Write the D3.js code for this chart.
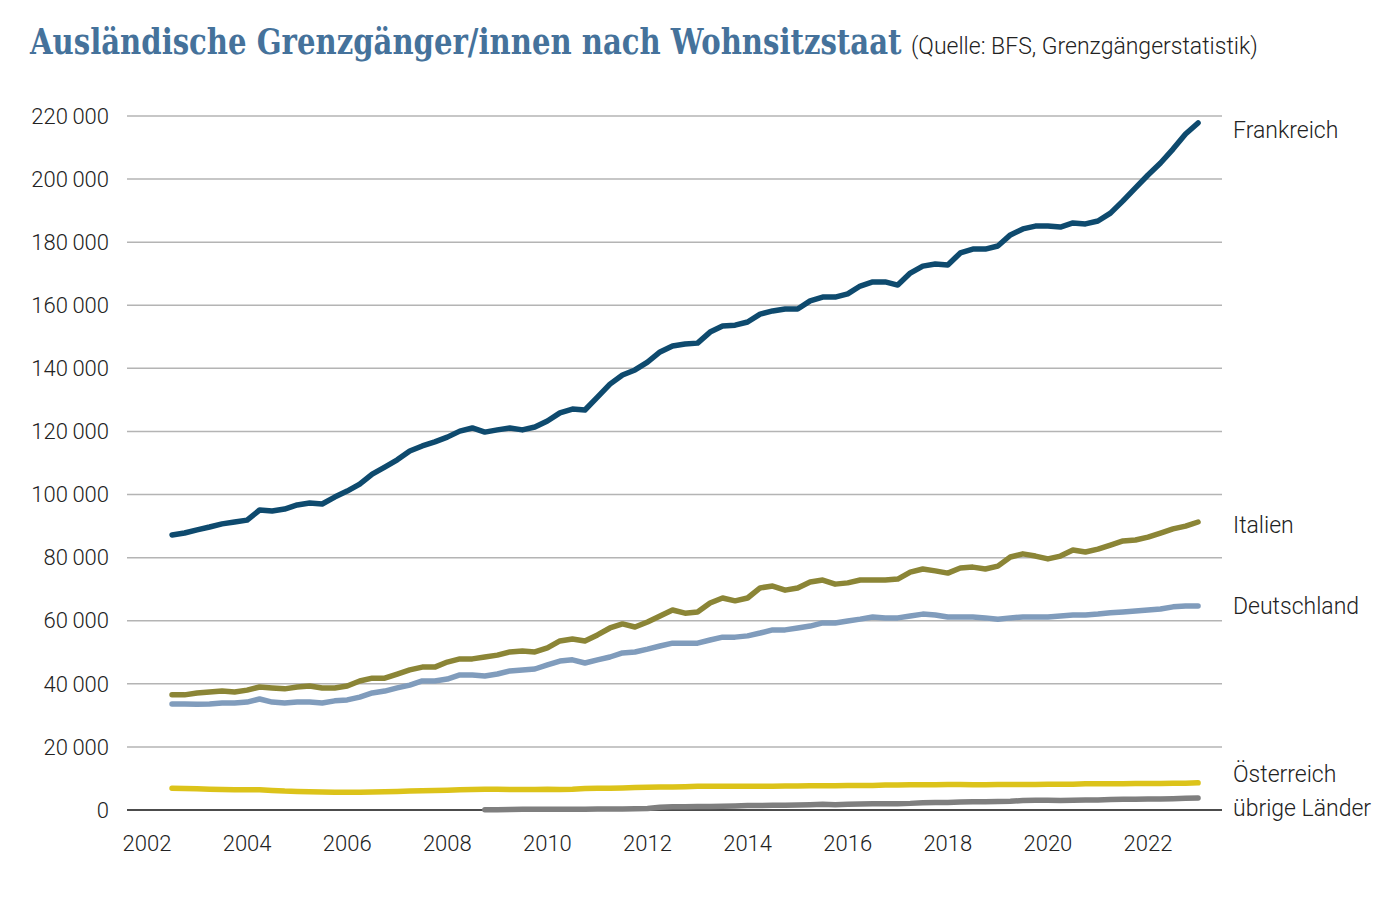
<!DOCTYPE html>
<html>
<head>
<meta charset="utf-8">
<script src="https://cdn.jsdelivr.net/npm/d3@7"></script>
<style>
  body { margin: 0; background: #fff; }
  svg { display: block; }
  .tick-label { font-family: Roboto, sans-serif; font-weight: 300; font-size: 22px; fill: #222; }
  .series-label { font-family: Roboto, sans-serif; font-weight: 300; font-size: 23px; fill: #222; }
</style>
</head>
<body>
<svg width="1400" height="898"></svg>
<script>
// quarterly values in thousands, 2002 Q3 .. 2023 Q1
let startYear = 2002.5;
let frankreich = [
  87.2, 87.8,
  88.8, 89.7, 90.7, 91.3,
  91.9, 95.1, 94.8, 95.4,
  96.7, 97.3, 97.0, 99.2,
  101.1, 103.3, 106.5, 108.7,
  111.0, 113.8, 115.4, 116.7,
  118.2, 120.1, 121.1, 119.8,
  120.5, 121.1, 120.5, 121.4,
  123.3, 125.9, 127.1, 126.8,
  130.9, 135.0, 137.9, 139.5,
  142.0, 145.2, 147.1, 147.7,
  148.0, 151.5, 153.4, 153.7,
  154.7, 157.2, 158.2, 158.8,
  158.8, 161.4, 162.6, 162.6,
  163.6, 166.1, 167.4, 167.4,
  166.4, 170.2, 172.4, 173.1,
  172.8, 176.6, 177.8, 177.8,
  178.8, 182.3, 184.2, 185.1,
  185.1, 184.8, 186.1, 185.8,
  186.7, 189.2, 193.1, 197.2,
  201.3, 205.1, 209.5, 214.3,
  217.8
];
let italien = [
  36.5, 36.5,
  37.1, 37.4, 37.7, 37.4,
  38.0, 39.0, 38.7, 38.4,
  39.0, 39.3, 38.7, 38.7,
  39.3, 40.9, 41.8, 41.8,
  43.1, 44.4, 45.3, 45.3,
  46.9, 47.9, 47.9, 48.5,
  49.1, 50.1, 50.4, 50.1,
  51.4, 53.6, 54.2, 53.6,
  55.5, 57.7, 59.0, 58.0,
  59.6, 61.5, 63.4, 62.4,
  62.8, 65.6, 67.2, 66.3,
  67.2, 70.4, 71.0, 69.7,
  70.4, 72.3, 72.9, 71.6,
  72.0, 72.9, 72.9, 72.9,
  73.2, 75.4, 76.4, 75.8,
  75.1, 76.7, 77.0, 76.4,
  77.3, 80.2, 81.2, 80.5,
  79.6, 80.5, 82.4, 81.8,
  82.7, 84.0, 85.3, 85.6,
  86.5, 87.8, 89.1, 90.0,
  91.3
];
let deutschland = [
  33.6, 33.6,
  33.5, 33.6, 33.9, 33.9,
  34.2, 35.2, 34.2, 33.9,
  34.2, 34.2, 33.9, 34.6,
  34.9, 35.8, 37.1, 37.7,
  38.7, 39.6, 40.9, 40.9,
  41.5, 42.8, 42.8, 42.5,
  43.1, 44.1, 44.4, 44.7,
  46.0, 47.2, 47.6, 46.6,
  47.6, 48.5, 49.8, 50.1,
  51.0, 52.0, 52.9, 52.9,
  52.9, 53.9, 54.8, 54.8,
  55.2, 56.1, 57.1, 57.1,
  57.7, 58.3, 59.3, 59.3,
  59.9, 60.5, 61.2, 60.9,
  60.9, 61.5, 62.1, 61.8,
  61.2, 61.2, 61.2, 60.9,
  60.5, 60.9, 61.2, 61.2,
  61.2, 61.5, 61.8, 61.8,
  62.1, 62.5, 62.8, 63.1,
  63.4, 63.7, 64.4, 64.7,
  64.7
];
let oesterreich = [
  6.9, 6.8,
  6.7, 6.6, 6.5, 6.4,
  6.4, 6.4, 6.2, 6.0,
  5.9, 5.8, 5.7, 5.6,
  5.6, 5.6, 5.7, 5.8,
  5.9, 6.0, 6.1, 6.2,
  6.3, 6.4, 6.5, 6.6,
  6.6, 6.5, 6.5, 6.5,
  6.6, 6.5, 6.6, 6.8,
  6.9, 6.9, 7.0, 7.1,
  7.2, 7.3, 7.3, 7.4,
  7.5, 7.5, 7.5, 7.5,
  7.5, 7.5, 7.5, 7.6,
  7.6, 7.7, 7.7, 7.7,
  7.8, 7.8, 7.8, 7.9,
  7.9, 8.0, 8.0, 8.0,
  8.1, 8.1, 8.0, 8.0,
  8.1, 8.1, 8.1, 8.1,
  8.2, 8.2, 8.2, 8.3,
  8.3, 8.3, 8.3, 8.4,
  8.4, 8.4, 8.5, 8.5,
  8.6
];
// starts in 2008 Q4
let uebrigeStart = 2008.75;
let uebrige = [
  0.1,
  0.1, 0.15, 0.2, 0.2,
  0.2, 0.2, 0.25, 0.25,
  0.3, 0.3, 0.35, 0.4,
  0.5, 0.9, 1.0, 1.0,
  1.1, 1.1, 1.2, 1.3,
  1.4, 1.4, 1.5, 1.5,
  1.6, 1.7, 1.8, 1.7,
  1.8, 1.9, 2.0, 2.0,
  2.0, 2.1, 2.3, 2.4,
  2.4, 2.5, 2.6, 2.6,
  2.7, 2.8, 3.0, 3.1,
  3.1, 3.0, 3.1, 3.2,
  3.2, 3.3, 3.4, 3.4,
  3.5, 3.5, 3.6, 3.7,
  3.8
];
let yTicks = d3.range(0, 220001, 20000);
let xTicks = d3.range(2002, 2023, 2);

let series = [
  { name: "Frankreich", start: startYear, values: frankreich, color: "#0e4a6e", dy: 7 },
  { name: "Italien", start: startYear, values: italien, color: "#8b8536", dy: 3 },
  { name: "Deutschland", start: startYear, values: deutschland, color: "#809cbc", dy: 0 },
  { name: "Österreich", start: startYear, values: oesterreich, color: "#dcc31a", dy: -9 },
  { name: "übrige Länder", start: uebrigeStart, values: uebrige, color: "#7f7f7f", dy: 10 }
];

let svg = d3.select("svg");
let x = d3.scaleLinear().domain([2002, 2022]).range([147, 1148]);
let y = d3.scaleLinear().domain([0, 220000]).range([810, 116]);
let gridLeft = 127, gridRight = 1222;

let loc = d3.formatLocale({ decimal: ",", thousands: "\u2009", grouping: [3], currency: ["", ""] });
let fmt = loc.format(",d");

// title: fit the width with the font size, then stretch it vertically
// so it looks like the narrow slab serif of the original
let titleWidth = 872;
let titleG = svg.append("g");
let title = titleG.append("text")
  .attr("x", 0)
  .attr("y", 0)
  .attr("font-family", "'Roboto Slab', 'DejaVu Serif', serif")
  .attr("font-weight", "bold")
  .attr("font-size", 30)
  .attr("fill", "#45729b")
  .text("Ausländische Grenzgänger/innen nach Wohnsitzstaat");
let fs = 30 * titleWidth / title.node().getComputedTextLength();
title.attr("font-size", fs);
titleG.attr("transform", `translate(30,54) scale(1,${35 / fs})`);

svg.append("text")
  .attr("x", 30 + titleWidth + 9)
  .attr("y", 54)
  .attr("font-family", "Roboto, sans-serif")
  .attr("font-weight", 300)
  .attr("font-size", 23)
  .attr("fill", "#222")
  .text("(Quelle: BFS, Grenzgängerstatistik)");

// grid
svg.append("g")
  .selectAll("line")
  .data(yTicks.filter(d => d > 0))
  .enter().append("line")
    .attr("x1", gridLeft)
    .attr("x2", gridRight)
    .attr("y1", d => y(d))
    .attr("y2", d => y(d))
    .attr("stroke", "#b4b4b4")
    .attr("stroke-width", 1.5);

svg.append("line")
  .attr("x1", gridLeft)
  .attr("x2", gridRight)
  .attr("y1", y(0))
  .attr("y2", y(0))
  .attr("stroke", "#111")
  .attr("stroke-width", 1.5);

// y labels
svg.append("g")
  .selectAll("text")
  .data(yTicks)
  .enter().append("text")
    .attr("class", "tick-label")
    .attr("x", 109)
    .attr("y", d => y(d))
    .attr("dy", "0.35em")
    .attr("text-anchor", "end")
    .text(d => fmt(d));

// x labels
svg.append("g")
  .selectAll("text")
  .data(xTicks)
  .enter().append("text")
    .attr("class", "tick-label")
    .attr("x", d => x(d))
    .attr("y", 851)
    .attr("text-anchor", "middle")
    .text(d => d);

let line = d3.line()
  .x(d => x(d.t))
  .y(d => y(d.v * 1000));

series.slice().reverse().forEach(s => {
  let pts = s.values.map((v, i) => ({ t: s.start + i * 0.25, v: v }));
  svg.append("path")
    .datum(pts)
    .attr("fill", "none")
    .attr("stroke", s.color)
    .attr("stroke-width", 5.5)
    .attr("stroke-linejoin", "round")
    .attr("stroke-linecap", "round")
    .attr("d", line);
});

// series labels
svg.append("g")
  .selectAll("text")
  .data(series)
  .enter().append("text")
    .attr("class", "series-label")
    .attr("x", 1233)
    .attr("y", d => y(d.values[d.values.length - 1] * 1000) + d.dy)
    .attr("dy", "0.35em")
    .text(d => d.name);
</script>
</body>
</html>
